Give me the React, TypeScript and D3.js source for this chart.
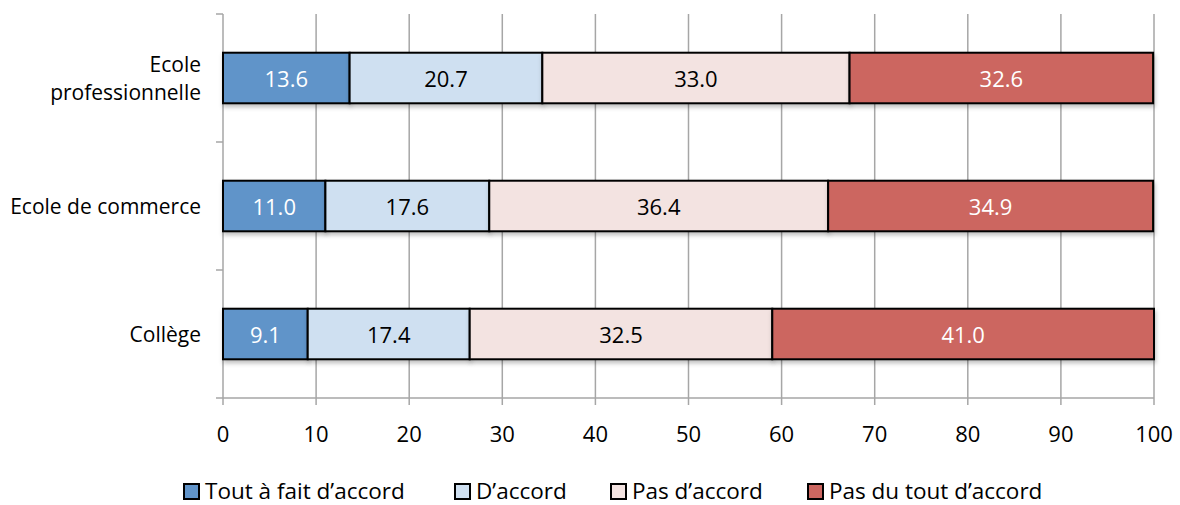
import React from "react";
import * as d3 from "d3";

const categories = ["Ecole professionnelle", "Ecole de commerce", "Collège"];
const categoryLines = [["Ecole", "professionnelle"], ["Ecole de commerce"], ["Collège"]];
const seriesNames = ["Tout à fait d’accord", "D’accord", "Pas d’accord", "Pas du tout d’accord"];
const toutAFait = [13.6, 11.0, 9.1];
const dAccord = [20.7, 17.6, 17.4];
const pasDAccord = [33.0, 36.4, 32.5];
const pasDuTout = [32.6, 34.9, 41.0];
const xTicks = [0, 10, 20, 30, 40, 50, 60, 70, 80, 90, 100];
const colors = ["#6194c9", "#cfe0f1", "#f3e3e1", "#cc6660"];
const labelColors = ["#ffffff", "#000000", "#000000", "#ffffff"];
const legendX = [184, 455, 611, 808];

const FONT = "'Open Sans', sans-serif";

export default function App() {
  const W = 1180, H = 505;
  const left = 223, right = 1154, top = 14, bottom = 398;
  const x = d3.scaleLinear().domain([0, 100]).range([left, right]);
  const y = d3.scaleBand<string>().domain(categories).range([top, bottom]).paddingInner(0.605).paddingOuter(0.3025);
  const series = [toutAFait, dAccord, pasDAccord, pasDuTout];
  const table = categories.map((c, i) => {
    const o: any = { cat: c };
    seriesNames.forEach((s, j) => (o[s] = series[j][i]));
    return o;
  });
  const stacked = d3.stack<any>().keys(seriesNames)(table);
  const catTicks = [0, 1, 2, 3].map((k) => top + (k * (bottom - top)) / 3);

  return (
    <svg width={W} height={H} style={{ position: "absolute", left: 0, top: 0 }} fontFamily={FONT}>
      <defs>
        <filter id="sh" x="-5%" y="-20%" width="110%" height="150%">
          <feDropShadow dx="1" dy="3" stdDeviation="2" floodColor="#000" floodOpacity="0.25" />
        </filter>
      </defs>
      {xTicks.map((t) => (
        <line key={t} x1={x(t)} x2={x(t)} y1={top} y2={bottom + 7} stroke="#a6a6a6" strokeWidth={1.5} />
      ))}
      <line x1={left} x2={right} y1={bottom} y2={bottom} stroke="#a6a6a6" strokeWidth={1.5} />
      {catTicks.map((t, i) => (
        <line key={i} x1={left - 7} x2={left} y1={t} y2={t} stroke="#a6a6a6" strokeWidth={1.5} />
      ))}
      {xTicks.map((t) => (
        <text key={t} x={x(t)} y={442} textAnchor="middle" fontSize={22} fill="#000">
          {t}
        </text>
      ))}
      {categories.map((c, i) => {
        const lines = categoryLines[i];
        const cy = (y(c) as number) + y.bandwidth() / 2;
        return (
          <text key={c} x={201} textAnchor="end" fontSize={21} fill="#000">
            {lines.map((l, k) => (
              <tspan key={k} x={201} y={cy + 7.5 + (k - (lines.length - 1) / 2) * 28}>
                {l}
              </tspan>
            ))}
          </text>
        );
      })}
      {stacked.map((s, j) => (
        <g key={s.key}>
          {s.map((d, i) => {
            const bx = x(d[0]);
            const bw = x(d[1]) - x(d[0]);
            const by = y(categories[i]) as number;
            return (
              <rect key={i} x={bx} y={by} width={bw} height={y.bandwidth()} fill={colors[j]} stroke="#000" strokeWidth={2} filter="url(#sh)" />
            );
          })}
        </g>
      ))}
      {stacked.map((s, j) => (
        <g key={"l" + s.key}>
          {s.map((d, i) => {
            const by = y(categories[i]) as number;
            return (
              <text key={i} x={x((d[0] + d[1]) / 2)} y={by + y.bandwidth() / 2 + 8.5} textAnchor="middle" fontSize={22} fill={labelColors[j]}>
                {series[j][i].toFixed(1)}
              </text>
            );
          })}
        </g>
      ))}
      {seriesNames.map((n, j) => (
        <g key={n}>
          <rect x={legendX[j]} y={484} width={15} height={15} fill={colors[j]} stroke="#000" strokeWidth={2} />
          <text x={legendX[j] + 21} y={499} fontSize={22.5} fill="#000">
            {n}
          </text>
        </g>
      ))}
    </svg>
  );
}
